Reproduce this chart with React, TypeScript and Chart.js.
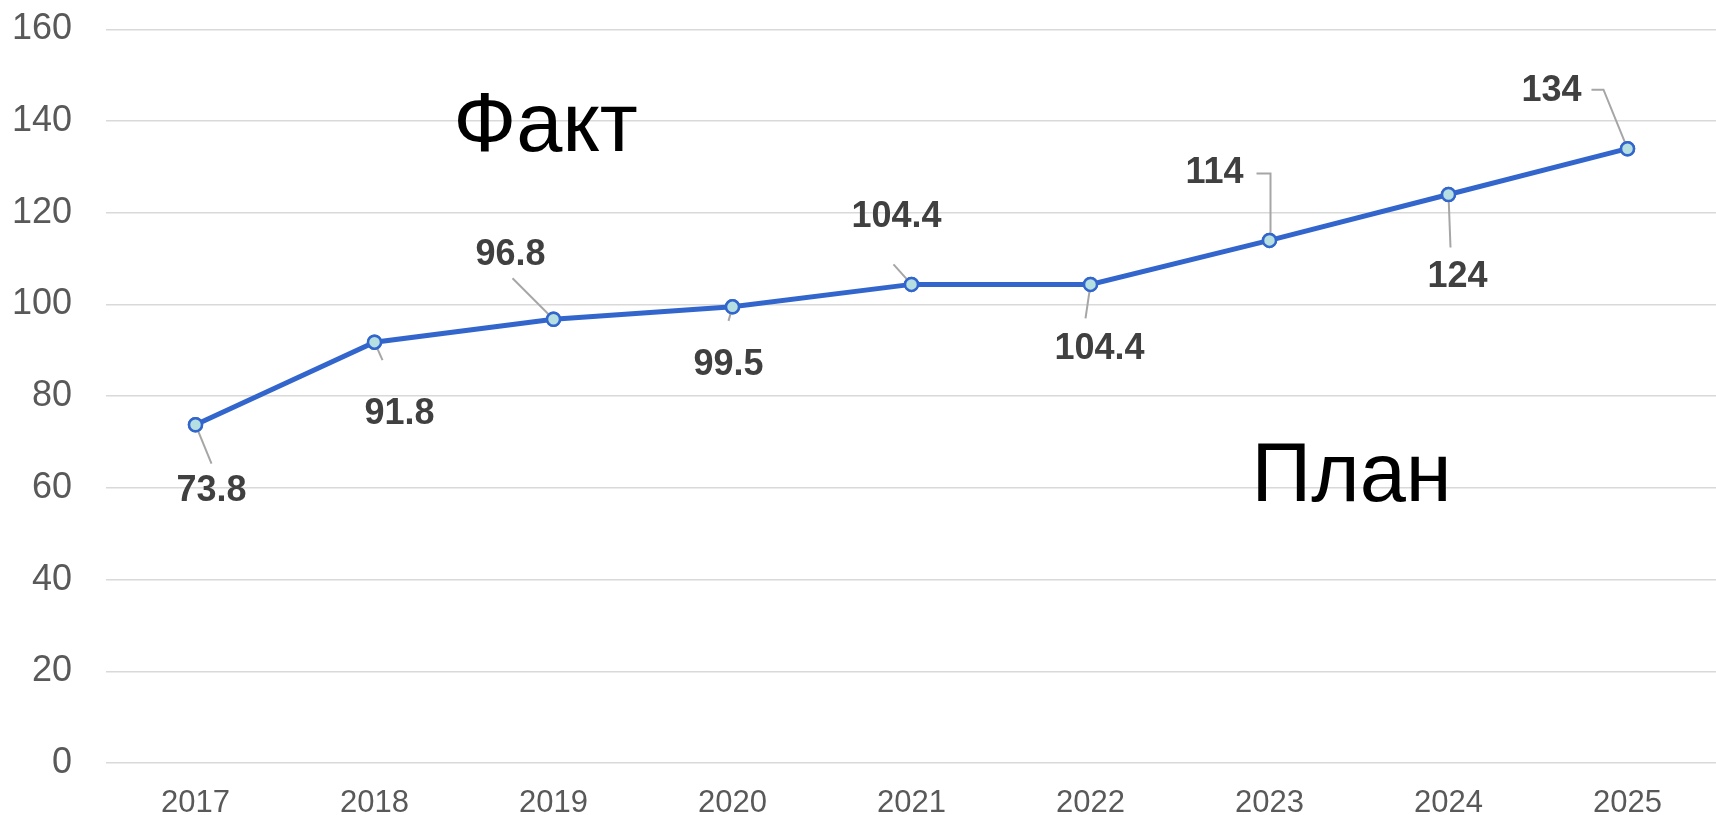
import React, { useEffect, useRef } from "react";
import { Chart, registerables } from "chart.js";

Chart.register(...registerables);

// ---- data ----
const years: string[] = ["2017", "2018", "2019", "2020", "2021", "2022", "2023", "2024", "2025"];
const values: number[] = [73.8, 91.8, 96.8, 99.5, 104.4, 104.4, 114, 124, 134];
const valueLabels: string[] = ["73.8", "91.8", "96.8", "99.5", "104.4", "104.4", "114", "124", "134"];
const yTicks: number[] = [0, 20, 40, 60, 80, 100, 120, 140, 160];
const annotationTexts: string[] = ["Факт", "План"];
// annotation anchors in data space (category index, value)
const annotationAnchors: number[][] = [
  [1.44, 133.6],
  [5.9, 57.2],
];

// ---- label layout (pixel offsets from each point) ----
const labelOffsets: number[][] = [
  [16, 66], [25, 72], [-43, -64], [-4, 58], [-15, -67], [9, 65], [-55, -67], [9, 83], [-76, -58],
];
const leaderPaths: number[][][] = [
  [[16, 39], [0, 0]],
  [[8, 18], [0, 0]],
  [[-41, -41], [0, 0]],
  [[-4, 14], [0, 0]],
  [[-18, -20], [0, 0]],
  [[-5, 34], [0, 0]],
  [[-13, -67], [1, -67], [1, 0]],
  [[2, 53], [0, 0]],
  [[-36, -59], [-24, -59], [0, 0]],
];

const FONT = "'Liberation Sans', Arial, sans-serif";

const overlayPlugin = {
  id: "overlay",
  afterDatasetsDraw(chart: any) {
    const ctx = chart.ctx;
    const meta = chart.getDatasetMeta(0);
    const xs = chart.scales.x;
    const ys = chart.scales.y;
    ctx.save();
    // leader lines
    ctx.strokeStyle = "#a6a6a6";
    ctx.lineWidth = 2;
    meta.data.forEach((pt: any, i: number) => {
      const path = leaderPaths[i];
      ctx.beginPath();
      path.forEach((p, j) => {
        const x = pt.x + p[0];
        const y = pt.y + p[1];
        if (j === 0) ctx.moveTo(x, y);
        else ctx.lineTo(x, y);
      });
      ctx.stroke();
    });
    // redraw points on top of leaders
    meta.data.forEach((pt: any) => {
      ctx.beginPath();
      ctx.arc(pt.x, pt.y, 6.5, 0, Math.PI * 2);
      ctx.fillStyle = "#b6dfe2";
      ctx.fill();
      ctx.lineWidth = 2.5;
      ctx.strokeStyle = "#3366cc";
      ctx.stroke();
    });
    // value labels
    ctx.font = `bold 36px ${FONT}`;
    ctx.fillStyle = "#404040";
    ctx.textAlign = "center";
    ctx.textBaseline = "middle";
    meta.data.forEach((pt: any, i: number) => {
      const o = labelOffsets[i];
      ctx.fillText(valueLabels[i], pt.x + o[0], pt.y + o[1]);
    });
    // annotations
    ctx.font = `83px ${FONT}`;
    ctx.fillStyle = "#000000";
    ctx.textAlign = "left";
    ctx.textBaseline = "alphabetic";
    annotationTexts.forEach((t, i) => {
      const a = annotationAnchors[i];
      ctx.fillText(t, xs.getPixelForValue(a[0]), ys.getPixelForValue(a[1]));
    });
    ctx.restore();
  },
};

export default function App() {
  const ref = useRef<HTMLCanvasElement | null>(null);
  useEffect(() => {
    document.body.style.margin = "0";
    const canvas = ref.current!;
    const chart = new Chart(canvas, {
      type: "line",
      data: {
        labels: years,
        datasets: [
          {
            data: values,
            borderColor: "#3366cc",
            borderWidth: 5,
            pointRadius: 6.5,
            pointBackgroundColor: "#b6dfe2",
            pointBorderColor: "#3366cc",
            pointBorderWidth: 2.5,
            tension: 0,
            fill: false,
          },
        ],
      },
      options: {
        animation: false,
        responsive: false,
        devicePixelRatio: 1,
        layout: { padding: { top: 29.5, left: 0, right: 0, bottom: 0 } },
        plugins: { legend: { display: false }, tooltip: { enabled: false } },
        scales: {
          x: {
            type: "category",
            offset: true,
            grid: { display: false, drawTicks: false },
            border: { display: false },
            ticks: {
              color: "#595959",
              font: { family: FONT, size: 31 },
              padding: 22,
              maxRotation: 0,
              autoSkip: false,
            },
            afterFit: (s: any) => {
              s.height = 52;
            },
          },
          y: {
            min: 0,
            max: 160,
            grid: { color: "#d9d9d9", lineWidth: 1.6, drawTicks: true, tickLength: 34, tickColor: "rgba(0,0,0,0)" },
            border: { display: false },
            ticks: {
              color: "#595959",
              font: { family: FONT, size: 36 },
              padding: 0,
            },
            afterBuildTicks: (s: any) => {
              s.ticks = yTicks.map((v) => ({ value: v }));
            },
            afterFit: (s: any) => {
              s.width = 106;
            },
          },
        },
      },
      plugins: [overlayPlugin],
    });
    return () => chart.destroy();
  }, []);
  return (
    <div style={{ position: "fixed", left: 0, top: 0, width: 1716, height: 815, overflow: "hidden", background: "#fff" }}>
      <canvas ref={ref} width={1726} height={815} style={{ display: "block" }} />
    </div>
  );
}
